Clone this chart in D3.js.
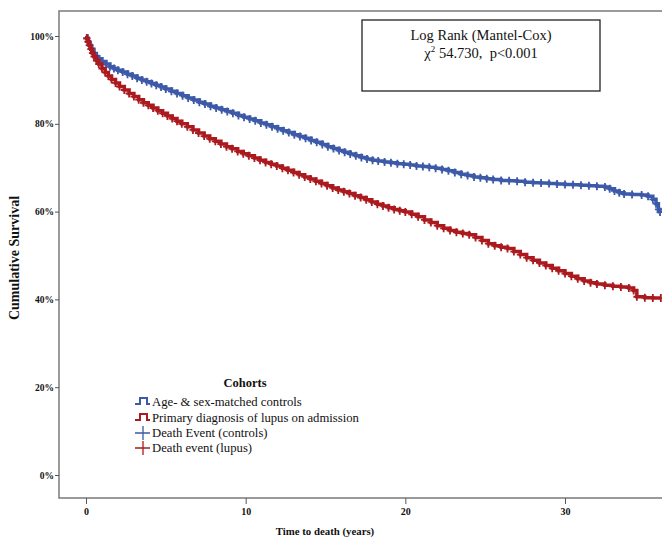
<!DOCTYPE html>
<meta charset="utf-8">
<style>
  body { margin: 0; background: #fff; }
  text { font-family: 'Liberation Serif', 'Times New Roman', serif; fill: #111; }
  .frame { stroke: #7a7a7a; stroke-width: 1.5px; fill: none; }
  .km { fill: none; stroke-width: 3.5px; }
</style>
<body>
<script src="https://d3js.org/d3.v7.min.js"></script>
<script>
// survival estimates: [years, proportion]
var controls = [
  [0, 1.000], [0.05, 0.995], [0.15, 0.986], [0.25, 0.978], [0.35, 0.970], [0.5, 0.960],
  [0.65, 0.953], [0.8, 0.948], [1.0, 0.942], [1.25, 0.936], [1.5, 0.930], [1.75, 0.926],
  [2.0, 0.922], [2.3, 0.918], [2.6, 0.913], [2.9, 0.909], [3.2, 0.904], [3.5, 0.900],
  [3.8, 0.896], [4.1, 0.892], [4.4, 0.888], [4.7, 0.884], [5.0, 0.879], [5.35, 0.874],
  [5.7, 0.869], [6.05, 0.864], [6.4, 0.859], [6.75, 0.854], [7.1, 0.849], [7.45, 0.845],
  [7.8, 0.840], [8.15, 0.836], [8.5, 0.832], [8.85, 0.828], [9.2, 0.824], [9.55, 0.819],
  [9.9, 0.815], [10.25, 0.811], [10.6, 0.807], [10.95, 0.802], [11.3, 0.798], [11.65, 0.793],
  [12.0, 0.789], [12.35, 0.784], [12.7, 0.780], [13.05, 0.775], [13.4, 0.771], [13.75, 0.767],
  [14.1, 0.762], [14.45, 0.758], [14.8, 0.753], [15.15, 0.748], [15.5, 0.744], [15.85, 0.739],
  [16.2, 0.735], [16.55, 0.731], [16.9, 0.727], [17.25, 0.723], [17.6, 0.720], [17.95, 0.717],
  [18.3, 0.715], [18.7, 0.713], [19.1, 0.711], [19.5, 0.709], [19.9, 0.708], [20.3, 0.706],
  [20.7, 0.704], [21.1, 0.703], [21.5, 0.701], [21.9, 0.699], [22.3, 0.696], [22.7, 0.693],
  [23.1, 0.689], [23.5, 0.685], [23.9, 0.682], [24.3, 0.679], [24.7, 0.677], [25.1, 0.675],
  [25.5, 0.673], [26.0, 0.671], [26.5, 0.670], [27.0, 0.669], [27.5, 0.667], [28.0, 0.666],
  [28.5, 0.665], [29.0, 0.664], [29.5, 0.663], [30.0, 0.662], [30.5, 0.661], [31.0, 0.660],
  [31.5, 0.659], [32.0, 0.658], [32.5, 0.656], [32.8, 0.652], [33.1, 0.647], [33.4, 0.643],
  [33.7, 0.640], [34.2, 0.639], [34.8, 0.638], [35.2, 0.635], [35.5, 0.628], [35.7, 0.618],
  [35.85, 0.605], [35.95, 0.599]
];
var lupus = [
  [0, 1.000], [0.05, 0.994], [0.12, 0.987], [0.2, 0.979], [0.3, 0.970], [0.4, 0.961],
  [0.5, 0.953], [0.65, 0.944], [0.8, 0.936], [1.0, 0.926], [1.2, 0.917], [1.4, 0.909],
  [1.6, 0.901], [1.85, 0.893], [2.1, 0.885], [2.4, 0.877], [2.7, 0.869], [3.0, 0.862],
  [3.3, 0.855], [3.6, 0.848], [3.9, 0.842], [4.2, 0.836], [4.5, 0.830], [4.8, 0.824],
  [5.1, 0.818], [5.4, 0.812], [5.7, 0.806], [6.0, 0.800], [6.35, 0.793], [6.7, 0.786],
  [7.05, 0.779], [7.4, 0.772], [7.75, 0.766], [8.1, 0.760], [8.45, 0.754], [8.8, 0.748],
  [9.15, 0.743], [9.5, 0.737], [9.85, 0.732], [10.2, 0.727], [10.55, 0.722], [10.9, 0.717],
  [11.25, 0.712], [11.6, 0.708], [11.95, 0.704], [12.3, 0.699], [12.65, 0.694], [13.0, 0.689],
  [13.35, 0.684], [13.7, 0.679], [14.05, 0.674], [14.4, 0.669], [14.75, 0.664], [15.1, 0.659],
  [15.45, 0.654], [15.8, 0.649], [16.15, 0.645], [16.5, 0.641], [16.85, 0.636], [17.2, 0.632],
  [17.55, 0.627], [17.9, 0.622], [18.25, 0.617], [18.6, 0.613], [18.95, 0.609], [19.3, 0.605],
  [19.65, 0.602], [20.0, 0.599], [20.4, 0.594], [20.8, 0.588], [21.2, 0.581], [21.6, 0.575],
  [22.0, 0.568], [22.4, 0.562], [22.8, 0.557], [23.2, 0.553], [23.6, 0.550], [24.0, 0.547],
  [24.4, 0.541], [24.8, 0.534], [25.2, 0.527], [25.6, 0.522], [26.0, 0.519], [26.4, 0.516],
  [26.8, 0.509], [27.2, 0.502], [27.6, 0.495], [28.0, 0.489], [28.4, 0.483], [28.8, 0.477],
  [29.2, 0.471], [29.6, 0.465], [30.0, 0.459], [30.4, 0.453], [30.8, 0.447], [31.2, 0.442],
  [31.6, 0.438], [32.0, 0.435], [32.5, 0.432], [33.0, 0.430], [33.5, 0.428], [34.0, 0.426],
  [34.3, 0.420], [34.5, 0.406], [35.0, 0.404], [35.5, 0.403], [36.0, 0.403]
];
var xTicks = [0, 10, 20, 30];
var yTicks = [0, 0.2, 0.4, 0.6, 0.8, 1.0];
var legendLabels = ["Age- & sex-matched controls", "Primary diagnosis of lupus on admission",
                    "Death Event (controls)", "Death event (lupus)"];
var blue = "#3d5aa8", red = "#ab1a1f";

var width = 662, height = 539;
var svg = d3.select("body").append("svg")
  .attr("width", width).attr("height", height);

// scales
var x = d3.scaleLinear().domain([0, 30]).range([86, 565]);
var y = d3.scaleLinear().domain([0, 1]).range([475, 36]);

// plot frame (right side is cut off in the original)
var fLeft = 59, fTop = 11, fBottom = 498, fRight = 700;
svg.append("path").attr("class", "frame")
  .attr("d", "M" + fRight + "," + fTop + "H" + fLeft + "V" + fBottom + "H" + fRight);

// y axis
var yAxis = svg.append("g")
  .attr("transform", "translate(" + fLeft + ",0)")
  .call(d3.axisLeft(y).tickValues(yTicks).tickSize(4).tickFormat(d3.format(".0%")));
yAxis.select(".domain").remove();
yAxis.selectAll("line").attr("stroke", "#555");
yAxis.selectAll("text").attr("font-size", 9.5).attr("font-weight", "bold")
  .attr("font-family", "'Liberation Serif', serif").attr("fill", "#222").attr("x", -5);

// x axis
var xAxis = svg.append("g")
  .attr("transform", "translate(0," + fBottom + ")")
  .call(d3.axisBottom(x).tickValues(xTicks).tickSize(6));
xAxis.select(".domain").remove();
xAxis.selectAll("line").attr("stroke", "#555");
xAxis.selectAll("text").attr("font-size", 10).attr("font-weight", "bold")
  .attr("font-family", "'Liberation Serif', serif").attr("fill", "#222").attr("y", 10);

// axis titles
svg.append("text").attr("x", 325).attr("y", 535).attr("text-anchor", "middle")
  .attr("font-size", 10.8).attr("font-weight", "bold").text("Time to death (years)");
svg.append("text").attr("transform", "translate(19,258) rotate(-90)")
  .attr("text-anchor", "middle").attr("font-size", 14).attr("font-weight", "bold")
  .text("Cumulative Survival");

// KM curves
var step = d3.line().curve(d3.curveStepAfter)
  .x(function (d) { return x(d[0]); })
  .y(function (d) { return y(d[1]); });

function drawCurve(data, color) {
  svg.append("path").datum(data).attr("class", "km").attr("stroke", color).attr("d", step);
  svg.append("g").selectAll("path").data(data.slice(1)).join("path")
    .attr("d", function (d) {
      var cx = x(d[0]), cy = y(d[1]);
      return "M" + (cx - 3.5) + "," + cy + "h7M" + cx + "," + (cy - 4) + "v8";
    })
    .attr("stroke", color).attr("stroke-width", 1.8);
}
drawCurve(controls, blue);
drawCurve(lupus, red);

// log rank box
svg.append("rect").attr("x", 362).attr("y", 20).attr("width", 238).attr("height", 71)
  .attr("fill", "#fff").attr("stroke", "#222").attr("stroke-width", 1.3);
svg.append("text").attr("x", 481).attr("y", 40).attr("text-anchor", "middle")
  .attr("font-size", 14.5).text("Log Rank (Mantel-Cox)");
var chi = svg.append("text").attr("x", 481).attr("y", 58).attr("text-anchor", "middle")
  .attr("font-size", 14.5);
chi.append("tspan").text("\u03c7");
chi.append("tspan").attr("font-size", 9).attr("dy", -6).text("2");
chi.append("tspan").attr("dy", 6).text(" 54.730,\u00a0 p<0.001");

// legend
svg.append("text").attr("x", 245).attr("y", 387).attr("text-anchor", "middle")
  .attr("font-size", 12.5).attr("font-weight", "bold").text("Cohorts");
var ly = [406, 422, 437, 452];
var lg = svg.append("g").selectAll("g").data(legendLabels).join("g")
  .attr("transform", function (d, i) { return "translate(0," + ly[i] + ")"; });
lg.append("text").attr("x", 152).attr("font-size", 12.7).text(function (d) { return d; });
lg.append("path")
  .attr("d", function (d, i) {
    return i < 2 ? "M135,-2H140V-8H147V-2H150" : "M135,-4H150M143,-11V3";
  })
  .attr("fill", "none").attr("stroke-width", function (d, i) { return i < 2 ? 2 : 1.3; })
  .attr("stroke", function (d, i) { return i % 2 === 0 ? blue : red; });
</script>
</body>
